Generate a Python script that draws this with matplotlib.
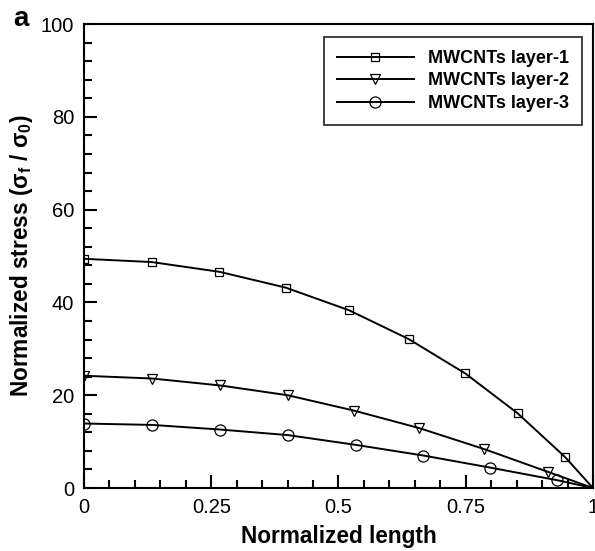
import numpy as np
import matplotlib
matplotlib.use("Agg")
import matplotlib.pyplot as plt
from matplotlib.ticker import MultipleLocator

plt.rcParams['font.family'] = ['Liberation Sans', 'DejaVu Sans']
plt.rcParams['mathtext.fontset'] = 'custom'
plt.rcParams['mathtext.rm'] = 'Liberation Sans'
plt.rcParams['mathtext.it'] = 'Liberation Sans'
plt.rcParams['mathtext.bf'] = 'Liberation Sans:bold'

# values (marker points + end point at x=1)
x1 = [0, 0.133, 0.266, 0.396, 0.521, 0.638, 0.749, 0.852, 0.945, 1.0]
y1 = [49.4, 48.7, 46.6, 43.2, 38.3, 32.1, 24.7, 16.1, 6.7, 0.0]

x2 = [0, 0.134, 0.268, 0.400, 0.530, 0.659, 0.786, 0.911, 1.0]
y2 = [24.2, 23.6, 22.1, 20.0, 16.7, 12.9, 8.4, 3.5, 0.0]

x3 = [0, 0.134, 0.268, 0.401, 0.534, 0.667, 0.798, 0.929, 1.0]
y3 = [13.9, 13.6, 12.6, 11.4, 9.3, 7.0, 4.4, 1.7, 0.0]

labels = ["MWCNTs layer-1", "MWCNTs layer-2", "MWCNTs layer-3"]

fig = plt.figure(figsize=(5.95, 5.51), dpi=100)
ax = fig.add_axes([0.1412, 0.1143, 0.8554, 0.8421])

series = [(x1, y1, 's', 5.5), (x2, y2, 'v', 6.5), (x3, y3, 'o', 8)]
for (xs, ys, m, ms), lab in zip(series, labels):
    # markers on all read points except the end point at x=1
    ax.plot(xs, ys, color='black', lw=1.4, marker=m, ms=ms, mfc='none',
            mec='black', mew=0.9, markevery=list(range(len(xs) - 1)), label=lab)

ax.set_xlim(0, 1)
ax.set_ylim(0, 100)
ax.set_xticks([0, 0.25, 0.5, 0.75, 1])
ax.set_xticklabels(["0", "0.25", "0.5", "0.75", "1"])
ax.set_yticks([0, 20, 40, 60, 80, 100])
ax.xaxis.set_minor_locator(MultipleLocator(0.05))
ax.yaxis.set_minor_locator(MultipleLocator(4))
ax.tick_params(which='major', direction='in', length=9.5, width=1.5,
               labelsize=14.5, top=False, right=False, pad=7)
ax.tick_params(which='minor', direction='in', length=5.8, width=1.5,
               top=False, right=False)
for s in ax.spines.values():
    s.set_linewidth(1.5)

ax.set_xlabel("Normalized length", fontsize=16.3, fontweight='bold', labelpad=6)
ax.set_ylabel(r"Normalized stress ($\mathregular{\sigma_f}$ / $\mathregular{\sigma_0}$)",
              fontsize=16.3, fontweight='bold', labelpad=4)

leg = ax.legend(loc='upper right', bbox_to_anchor=(0.978, 0.972), borderaxespad=0,
                prop={'weight': 'bold', 'size': 13}, frameon=True, fancybox=False,
                edgecolor='black', handlelength=4.3, labelspacing=0.3,
                borderpad=0.72, handletextpad=0.75)
leg.get_frame().set_linewidth(1.3)

fig.text(0.022, 0.952, "a", fontsize=20, fontweight='bold')

fig.savefig("out.png", dpi=100)
